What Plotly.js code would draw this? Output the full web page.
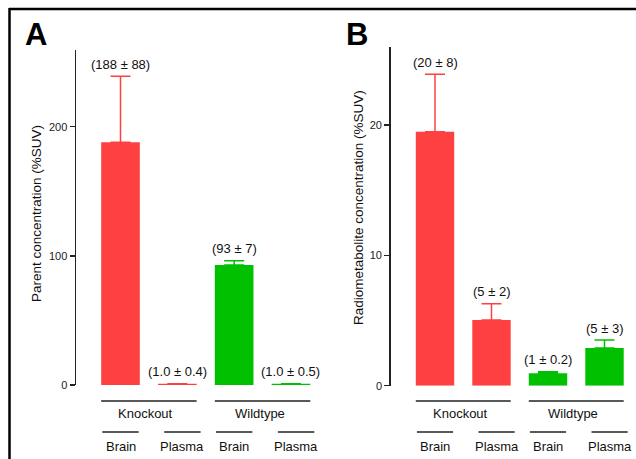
<!DOCTYPE html>
<html><head><meta charset="utf-8">
<script src="https://cdn.plot.ly/plotly-3.0.1.min.js"></script>
<style>body{margin:0;background:#fff}</style>
</head><body><div id="chart" style="width:636px;height:459px"></div>
<script>
// ---- data ----
const groups = ["Knockout", "Knockout", "Wildtype", "Wildtype"];
const tissues = ["Brain", "Plasma", "Brain", "Plasma"];
const parentMean = [188, 1.0, 93, 1.0];
const parentErrDrawn = [51, 0, 3.3, 0];
const parentLabels = ["(188 ± 88)", "(1.0 ± 0.4)", "(93 ± 7)", "(1.0 ± 0.5)"];
const metabMean = [19.5, 5.05, 0.95, 2.9];
const metabErrDrawn = [4.4, 1.25, 0.13, 0.6];
const metabLabels = ["(20 ± 8)", "(5 ± 2)", "(1 ± 0.2)", "(5 ± 3)"];
const yTicksA = [0, 100, 200];
const yTicksB = [0, 10, 20];
const titleA = "Parent concentration (%SUV)";
const titleB = "Radiometabolite concentration (%SUV)";

// ---- style ----
const W = 636, H = 459;
const FONT = "Liberation Sans, Arial, Helvetica, sans-serif";
const groupColor = {Knockout: "#ff4040", Wildtype: "#00c000"};
const tissueShift = {Brain: 0, Plasma: 0.09};
const px = p => p / W;
const py = p => 1 - p / H;
const idx = groups.map((g, i) => i);
const BW = 0.68;

function barTraces(means, errs, xa, ya) {
  const uniq = [...new Set(groups)];
  return uniq.map(g => {
    const ii = idx.filter(i => groups[i] === g);
    return {
      type: "bar", xaxis: xa, yaxis: ya,
      x: ii, y: ii.map(i => means[i]), width: BW,
      marker: {color: groupColor[g], line: {width: 0}},
      error_y: {type: "data", symmetric: false, array: ii.map(i => errs[i]),
                arrayminus: ii.map(() => 0), color: groupColor[g],
                thickness: 1.5, width: 10},
      hoverinfo: "skip", showlegend: false
    };
  });
}

const data = [
  ...barTraces(parentMean, parentErrDrawn, "x", "y"),
  ...barTraces(metabMean, metabErrDrawn, "x2", "y2")
];

function yax(domain, range, ticks, anchor) {
  return {
    domain: domain, range: range, anchor: anchor,
    showline: true, linewidth: 1.5, linecolor: "#222",
    ticks: "outside", ticklen: 5, tickwidth: 1.5, tickcolor: "#222",
    tickvals: ticks, ticktext: ticks.map(String),
    showgrid: false, zeroline: false,
    tickfont: {family: FONT, size: 11, color: "#222"}
  };
}
function xax(domain, range, anchor) {
  return {domain: domain, range: range, anchor: anchor, visible: false, fixedrange: true};
}

const shapes = [
  {type: "line", xref: "paper", yref: "paper", x0: px(9), x1: 1, y0: py(9), y1: py(9),
   line: {color: "#000", width: 2.5}},
  {type: "line", xref: "paper", yref: "paper", x0: px(9.5), x1: px(9.5), y0: py(8), y1: 0,
   line: {color: "#000", width: 2.5}}
];
const annotations = [];

function decorate(xref, means, errs, labels, axTitle, titleX, titleY, letter, letterX) {
  const uniq = [...new Set(groups)];
  uniq.forEach(g => {
    const ii = idx.filter(i => groups[i] === g);
    const lo = Math.min(...ii) - BW / 2, hi = Math.max(...ii) + BW / 2;
    shapes.push({type: "line", xref: xref, yref: "paper", x0: lo, x1: hi,
      y0: py(401), y1: py(401), line: {color: "#222", width: 1.5}});
    annotations.push({xref: xref, yref: "paper", x: (lo + hi) / 2, y: py(413),
      text: g, showarrow: false, xanchor: "center", yanchor: "middle", xshift: -3,
      font: {family: FONT, size: 13, color: "#111"}});
  });
  idx.forEach(i => {
    const c = i + tissueShift[tissues[i]];
    shapes.push({type: "line", xref: xref, yref: "paper", x0: c - 0.32, x1: c + 0.32,
      y0: py(432), y1: py(432), line: {color: "#222", width: 1.5}});
    annotations.push({xref: xref, yref: "paper", x: c, y: py(446),
      text: tissues[i], showarrow: false, xanchor: "center", yanchor: "middle",
      font: {family: FONT, size: 13, color: "#111"}});
    annotations.push({xref: xref, yref: xref === "x" ? "y" : "y2", x: i, y: means[i] + errs[i],
      text: labels[i], showarrow: false, xanchor: "center", yanchor: "middle", yshift: 12,
      font: {family: FONT, size: 13, color: "#111"}});
  });
  annotations.push({xref: "paper", yref: "paper", x: px(titleX), y: py(titleY),
    text: axTitle, textangle: -90, showarrow: false, xanchor: "center", yanchor: "middle",
    font: {family: FONT, size: 13.5, color: "#111"}});
  annotations.push({xref: "paper", yref: "paper", x: px(letterX), y: py(34),
    text: "<b>" + letter + "</b>", showarrow: false, xanchor: "center", yanchor: "middle",
    font: {family: FONT, size: 31, color: "#000"}});
}

decorate("x", parentMean, parentErrDrawn, parentLabels, titleA, 36, 214, "A", 36);
decorate("x2", metabMean, metabErrDrawn, metabLabels, titleB, 358, 208, "B", 357);

const layout = {
  width: W, height: H, margin: {l: 0, r: 0, t: 0, b: 0},
  paper_bgcolor: "#fff", plot_bgcolor: "rgba(0,0,0,0)",
  barmode: "overlay", showlegend: false,
  xaxis: xax([px(76), px(319.4)], [-0.783, 3.5], "y"),
  yaxis: yax([py(385), py(50)], [0, 259.4], yTicksA, "x"),
  xaxis2: xax([px(390.7), px(632.75)], [-0.784, 3.5], "y2"),
  yaxis2: yax([py(385.7), py(47)], [0, 26.0], yTicksB, "x2"),
  shapes: shapes, annotations: annotations
};

Plotly.newPlot("chart", data, layout, {staticPlot: true, displayModeBar: false});
</script>
</body></html>
